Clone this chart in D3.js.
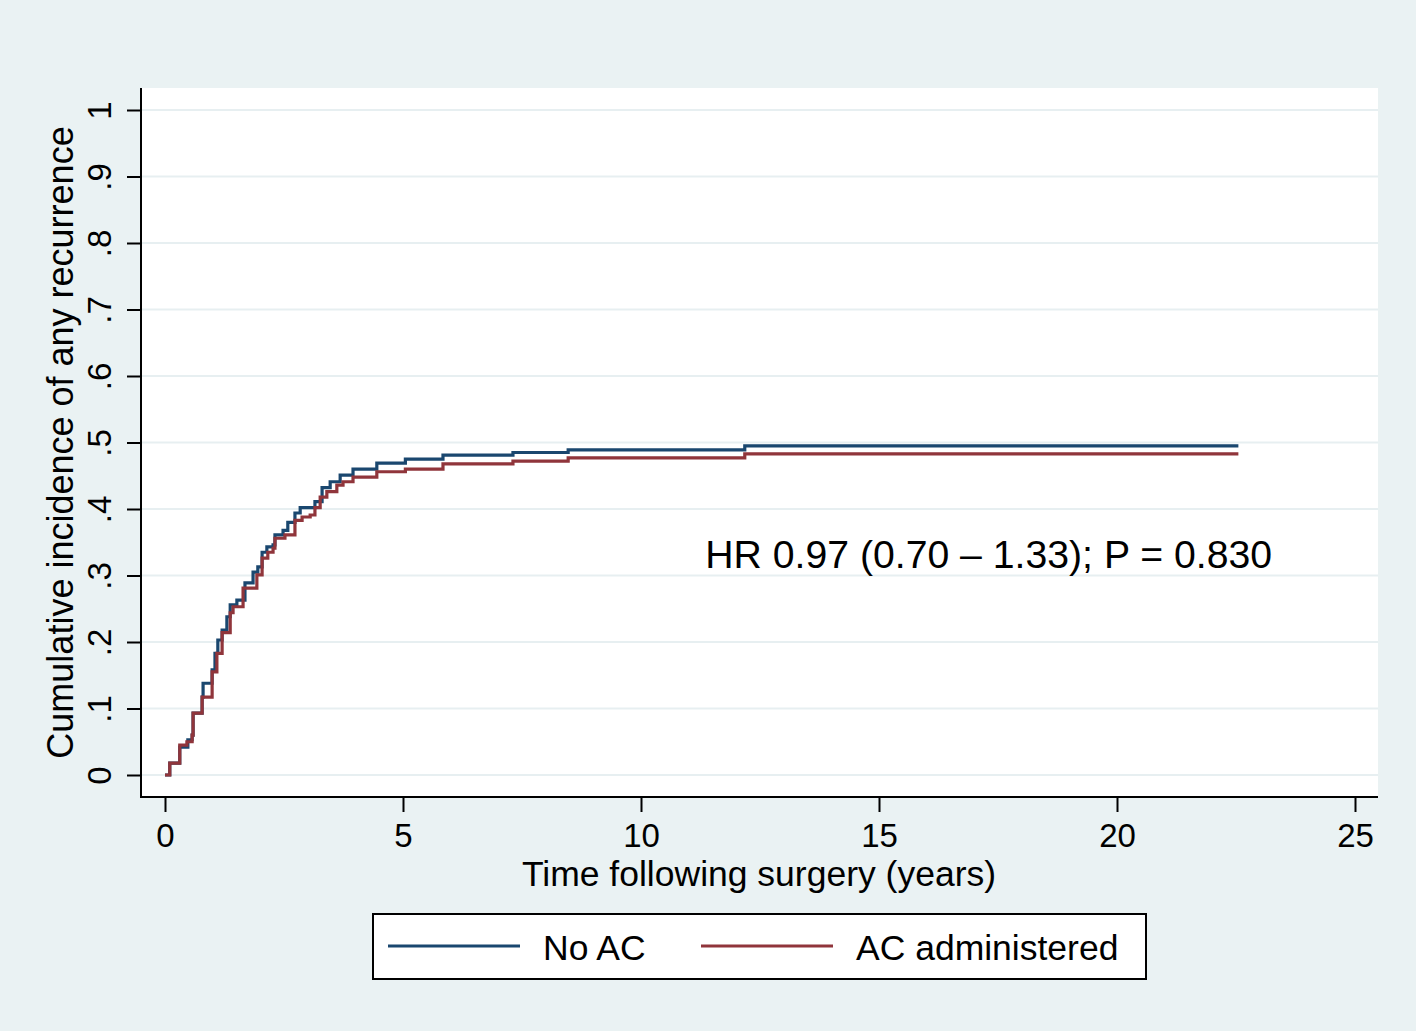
<!DOCTYPE html>
<html>
<head>
<meta charset="utf-8">
<script src="https://cdn.jsdelivr.net/npm/d3@7"></script>
<style>
  html, body { margin: 0; padding: 0; background: #eaf2f3; }
  svg { display: block; }
  text { font-family: "Liberation Sans", Arial, Helvetica, sans-serif; fill: #000; }
</style>
</head>
<body>
<script>
// ---- data ----
const noAcTime  = [0, 0.10, 0.31, 0.48, 0.57, 0.59, 0.78, 0.80, 0.99, 1.05, 1.11, 1.20, 1.30, 1.37, 1.51, 1.68, 1.85, 1.95, 2.04, 2.14, 2.27, 2.31, 2.48, 2.58, 2.73, 2.84, 3.15, 3.30, 3.47, 3.68, 3.95, 4.45, 5.05, 5.84, 7.31, 8.47, 12.18, 22.55];
const noAcValue = [0, 0.018, 0.042, 0.053, 0.060, 0.093, 0.117, 0.138, 0.158, 0.183, 0.203, 0.218, 0.238, 0.256, 0.263, 0.289, 0.305, 0.313, 0.335, 0.343, 0.346, 0.361, 0.368, 0.380, 0.394, 0.402, 0.411, 0.432, 0.441, 0.451, 0.460, 0.469, 0.475, 0.481, 0.485, 0.489, 0.495, 0.495];

const acTime  = [0, 0.10, 0.31, 0.46, 0.57, 0.59, 0.78, 0.99, 1.09, 1.20, 1.37, 1.43, 1.64, 1.93, 2.04, 2.16, 2.27, 2.31, 2.52, 2.73, 2.88, 3.05, 3.15, 3.26, 3.40, 3.61, 3.74, 3.95, 4.45, 5.05, 5.84, 7.31, 8.47, 12.18, 22.55];
const acValue = [0, 0.018, 0.045, 0.050, 0.060, 0.093, 0.117, 0.155, 0.183, 0.214, 0.244, 0.253, 0.281, 0.301, 0.326, 0.335, 0.341, 0.356, 0.361, 0.383, 0.388, 0.391, 0.402, 0.418, 0.426, 0.436, 0.441, 0.448, 0.456, 0.460, 0.468, 0.472, 0.477, 0.483, 0.483];

const seriesNames = ["No AC", "AC administered"];
const seriesColors = ["#1a476f", "#90353b"];
const xTicks = [0, 5, 10, 15, 20, 25];
const yTicks = [0, 0.1, 0.2, 0.3, 0.4, 0.5, 0.6, 0.7, 0.8, 0.9, 1];
const yTickLabels = ["0", ".1", ".2", ".3", ".4", ".5", ".6", ".7", ".8", ".9", "1"];
const annotation = "HR 0.97 (0.70 \u2013 1.33); P = 0.830";
const xTitle = "Time following surgery (years)";
const yTitle = "Cumulative incidence of any recurrence";

// ---- layout ----
const W = 1416, H = 1031;
const plot = { left: 141, right: 1378, top: 88, bottom: 797 };

const svg = d3.select("body").append("svg").attr("width", W).attr("height", H);
svg.append("rect").attr("width", W).attr("height", H).attr("fill", "#eaf2f3");

const x = d3.scaleLinear().domain([0, 25]).range([165, 1355]);
const y = d3.scaleLinear().domain([0, 1]).range([775, 110]);

// plot region
svg.append("rect")
  .attr("x", plot.left).attr("y", plot.top)
  .attr("width", plot.right - plot.left).attr("height", plot.bottom - plot.top)
  .attr("fill", "#ffffff");

// gridlines
svg.append("g").selectAll("line").data(yTicks).join("line")
  .attr("x1", plot.left + 1).attr("x2", plot.right)
  .attr("y1", d => y(d)).attr("y2", d => y(d))
  .attr("stroke", "#e7eff1").attr("stroke-width", 2.2);

// y axis
const yAxis = d3.axisLeft(y).tickValues(yTicks).tickSize(14).tickFormat((d, i) => yTickLabels[i]);
const gy = svg.append("g").attr("transform", `translate(${plot.left},0)`).call(yAxis);
gy.select(".domain").remove();
gy.selectAll(".tick line").attr("stroke", "#000").attr("stroke-width", 2);
gy.selectAll(".tick text")
  .attr("x", null).attr("dy", null)
  .attr("transform", "translate(-30,0) rotate(-90)")
  .attr("text-anchor", "middle")
  .style("font-size", "33px")
  .style("font-family", "Liberation Sans, Arial, sans-serif");
svg.append("line").attr("x1", plot.left).attr("x2", plot.left)
  .attr("y1", plot.top).attr("y2", plot.bottom + 1)
  .attr("stroke", "#000").attr("stroke-width", 2);

// x axis
const xAxis = d3.axisBottom(x).tickValues(xTicks).tickSize(15).tickFormat(d3.format("d"));
const gx = svg.append("g").attr("transform", `translate(0,${plot.bottom})`).call(xAxis);
gx.select(".domain").remove();
gx.selectAll(".tick line").attr("stroke", "#000").attr("stroke-width", 2);
gx.selectAll(".tick text")
  .attr("y", 50).attr("dy", null)
  .attr("text-anchor", "middle")
  .style("font-size", "33px")
  .style("font-family", "Liberation Sans, Arial, sans-serif");
svg.append("line").attr("x1", plot.left - 1).attr("x2", plot.right)
  .attr("y1", plot.bottom).attr("y2", plot.bottom)
  .attr("stroke", "#000").attr("stroke-width", 2);

// titles
svg.append("text").attr("x", 759).attr("y", 886).attr("text-anchor", "middle")
  .style("font-size", "35.5px").text(xTitle);
svg.append("text").attr("transform", `translate(73,${(y(0) + y(1)) / 2}) rotate(-90)`)
  .attr("text-anchor", "middle").style("font-size", "36px").text(yTitle);

// curves
const line = d3.line().curve(d3.curveStepAfter).x(d => x(d[0])).y(d => y(d[1]));
const series = [
  noAcTime.map((t, i) => [t, noAcValue[i]]),
  acTime.map((t, i) => [t, acValue[i]])
];
series.forEach((s, i) => {
  svg.append("path").datum(s)
    .attr("d", line)
    .attr("fill", "none")
    .attr("stroke", seriesColors[i])
    .attr("stroke-width", 3.2)
    .attr("stroke-linejoin", "miter");
});

// annotation
svg.append("text").attr("x", x(11.35)).attr("y", y(0.311))
  .style("font-size", "39.2px").text(annotation);

// legend
const lg = svg.append("g");
lg.append("rect").attr("x", 373).attr("y", 914).attr("width", 773).attr("height", 65)
  .attr("fill", "#ffffff").attr("stroke", "#000").attr("stroke-width", 2);
const legendItems = [
  { x1: 388, x2: 520, tx: 543 },
  { x1: 701, x2: 833, tx: 856 }
];
legendItems.forEach((it, i) => {
  lg.append("line").attr("x1", it.x1).attr("x2", it.x2).attr("y1", 946).attr("y2", 946)
    .attr("stroke", seriesColors[i]).attr("stroke-width", 3);
  lg.append("text").attr("x", it.tx).attr("y", 960)
    .style("font-size", "35.5px").text(seriesNames[i]);
});
</script>
</body>
</html>
